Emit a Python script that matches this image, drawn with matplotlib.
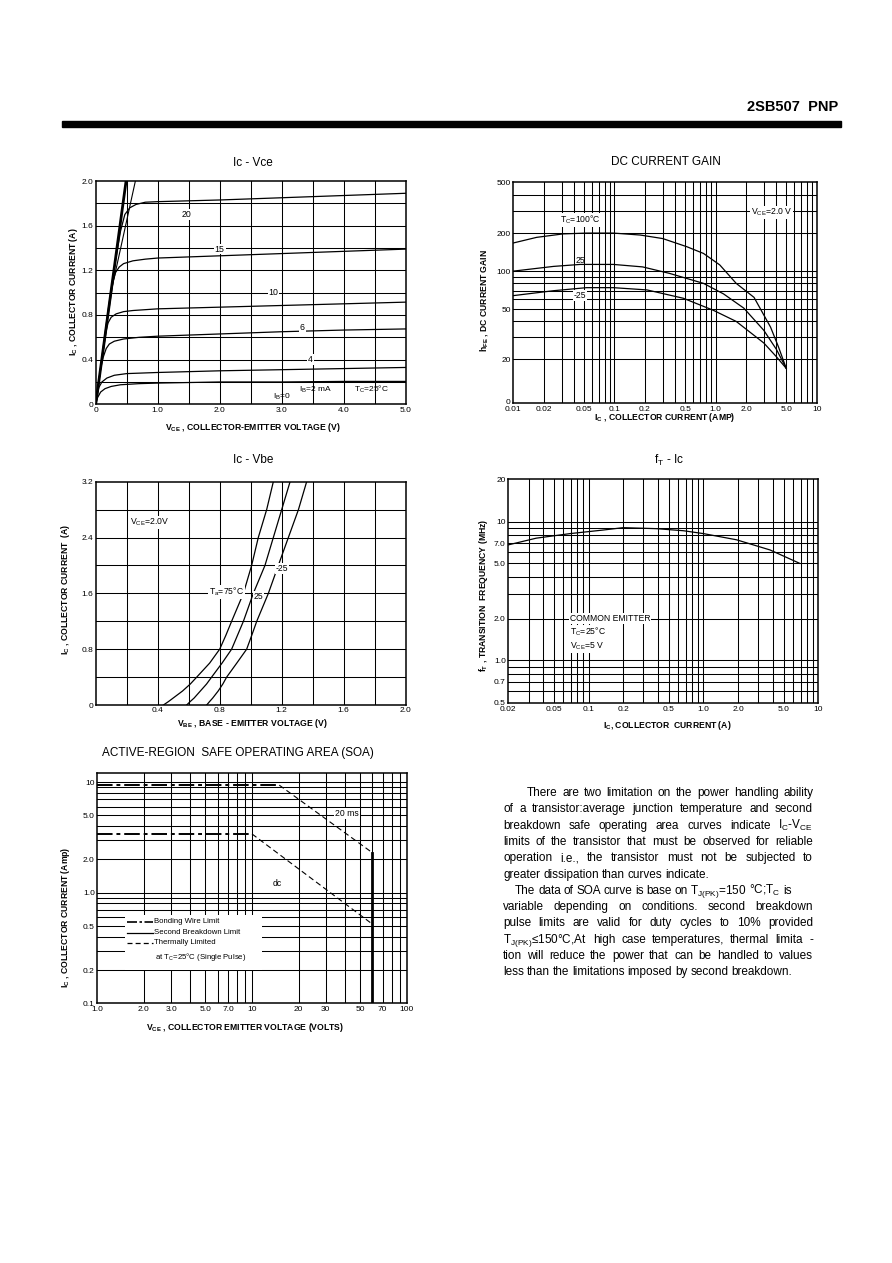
import matplotlib
matplotlib.use("Agg")
import matplotlib.pyplot as plt
from matplotlib.lines import Line2D
from matplotlib.patches import Rectangle
from matplotlib.ticker import NullLocator
import numpy as np

plt.rcParams['font.family'] = ['Liberation Sans', 'DejaVu Sans']
plt.rcParams['mathtext.fontset'] = 'custom'
plt.rcParams['mathtext.rm'] = 'Liberation Sans'
plt.rcParams['mathtext.it'] = 'Liberation Sans:italic'
plt.rcParams['mathtext.bf'] = 'Liberation Sans:bold'
plt.rcParams['mathtext.default'] = 'regular'

# ---------------- data ----------------
# Ic - Vce, Tc = 25 C, one curve per base current (mA)
ib_names = ["20", "15", "10", "6", "4", "2"]
vce_ib20 = [0, 0.1, 0.2, 0.3, 0.4, 0.47, 0.55, 0.65, 0.8, 1.0, 2.0, 3.0, 4.0, 5.0]
ic_ib20 = [0, 0.42, 0.84, 1.22, 1.55, 1.70, 1.76, 1.79, 1.81, 1.815, 1.83, 1.85, 1.87, 1.89]
vce_ib15 = [0, 0.1, 0.2, 0.28, 0.32, 0.38, 0.45, 0.6, 0.8, 1.0, 2.0, 3.0, 4.0, 5.0]
ic_ib15 = [0, 0.40, 0.80, 1.10, 1.18, 1.23, 1.26, 1.285, 1.30, 1.31, 1.33, 1.35, 1.37, 1.39]
vce_ib10 = [0, 0.1, 0.17, 0.2, 0.25, 0.33, 0.45, 0.6, 1.0, 2.0, 3.0, 4.0, 5.0]
ic_ib10 = [0, 0.40, 0.66, 0.73, 0.78, 0.81, 0.83, 0.84, 0.855, 0.87, 0.885, 0.90, 0.915]
vce_ib6 = [0, 0.08, 0.12, 0.17, 0.22, 0.3, 0.45, 0.7, 1.0, 2.0, 3.0, 4.0, 5.0]
ic_ib6 = [0, 0.32, 0.42, 0.50, 0.54, 0.565, 0.585, 0.60, 0.61, 0.63, 0.65, 0.665, 0.675]
vce_ib4 = [0, 0.05, 0.1, 0.18, 0.3, 0.5, 1.0, 2.0, 3.0, 4.0, 5.0]
ic_ib4 = [0, 0.15, 0.20, 0.235, 0.26, 0.275, 0.285, 0.30, 0.31, 0.32, 0.33]
vce_ib2 = [0, 0.03, 0.08, 0.15, 0.25, 0.4, 0.7, 1.0, 2.0, 3.0, 4.0, 5.0]
ic_ib2 = [0, 0.06, 0.11, 0.14, 0.16, 0.175, 0.185, 0.19, 0.20, 0.20, 0.205, 0.205]
sat_thick_v = [0.0, 0.49]
sat_thick_i = [0.0, 2.0]
sat_thin_v = [0.0, 0.245, 0.64]
sat_thin_i = [0.0, 1.0, 2.0]

# DC current gain, Vce = 2.0 V
ic_gain_100 = [0.01, 0.017, 0.031, 0.053, 0.0975, 0.18, 0.30, 0.52, 0.76, 1.1, 1.6, 2.4, 3.5, 4.2, 5.0]
hfe_100 = [167, 185, 197, 200, 200, 193, 181, 156, 138, 112, 80, 62, 36, 25, 17]
ic_gain_25 = [0.01, 0.025, 0.046, 0.0975, 0.19, 0.35, 0.76, 1.2, 1.9, 3.0, 4.0, 5.0]
hfe_25 = [100, 109, 113, 113, 108, 96, 80, 66, 51, 34, 24, 17]
ic_gain_m25 = [0.01, 0.025, 0.053, 0.0975, 0.21, 0.48, 0.95, 1.6, 3.0, 4.0, 5.0]
hfe_m25 = [64, 70, 74, 74, 71, 61, 49, 40, 27, 21, 17]

# Ic - Vbe, Vce = 2.0 V
ic_vbe = [0.0, 0.05, 0.1, 0.2, 0.3, 0.4, 0.6, 0.8, 1.0, 1.2, 1.6, 2.0, 2.4, 2.8, 3.2]
vbe_75 = [0.437, 0.47, 0.50, 0.56, 0.61, 0.652, 0.735, 0.80, 0.84, 0.877, 0.953, 1.006, 1.049, 1.103, 1.146]
vbe_25 = [0.587, 0.61, 0.635, 0.675, 0.715, 0.748, 0.815, 0.877, 0.915, 0.953, 1.017, 1.092, 1.146, 1.200, 1.254]
vbe_m25 = [0.716, 0.735, 0.755, 0.79, 0.82, 0.845, 0.91, 0.974, 1.007, 1.039, 1.114, 1.178, 1.243, 1.308, 1.361]

# fT - Ic
ic_ft = [0.02, 0.035, 0.069, 0.134, 0.2, 0.39, 0.67, 1.0, 1.94, 3.8, 6.9]
ft_mhz = [6.8, 7.6, 8.2, 8.7, 9.05, 8.9, 8.6, 8.2, 7.4, 6.25, 5.0]

# Safe operating area
soa_20ms_flat_v = [1.0, 15.0]
soa_20ms_flat_i = [9.4, 9.4]
soa_20ms_th_v = [15.0, 60.0]
soa_20ms_th_i = [9.4, 2.3]
soa_dc_flat_v = [1.0, 10.0]
soa_dc_flat_i = [3.4, 3.4]
soa_dc_th_v = [10.0, 60.0]
soa_dc_th_i = [3.4, 0.52]
soa_sb_v = [60.0, 60.0]
soa_sb_i = [2.3, 0.1]

# tick labels
vce_ticks = [0, 1, 2, 3, 4, 5]
vce_ticklabels = ["0", "1.0", "2.0", "3.0", "4.0", "5.0"]
ic1_ticks = [0, 0.4, 0.8, 1.2, 1.6, 2.0]
ic1_ticklabels = ["0", "0.4", "0.8", "1.2", "1.6", "2.0"]
gain_x_ticks = [0.01, 0.02, 0.05, 0.1, 0.2, 0.5, 1.0, 2.0, 5.0, 10]
gain_x_labels = ["0.01", "0.02", "0.05", "0.1", "0.2", "0.5", "1.0", "2.0", "5.0", "10"]
gain_y_ticks = [9.3, 20, 50, 100, 200, 500]
gain_y_labels = ["0", "20", "50", "100", "200", "500"]
vbe_ticks = [0.4, 0.8, 1.2, 1.6, 2.0]
vbe_ticklabels = ["0.4", "0.8", "1.2", "1.6", "2.0"]
ic3_ticks = [0, 0.8, 1.6, 2.4, 3.2]
ic3_ticklabels = ["0", "0.8", "1.6", "2.4", "3.2"]
ft_x_ticks = [0.02, 0.05, 0.1, 0.2, 0.5, 1.0, 2.0, 5.0, 10]
ft_x_labels = ["0.02", "0.05", "0.1", "0.2", "0.5", "1.0", "2.0", "5.0", "10"]
ft_y_ticks = [0.5, 0.7, 1.0, 2.0, 5.0, 7.0, 10, 20]
ft_y_labels = ["0.5", "0.7", "1.0", "2.0", "5.0", "7.0", "10", "20"]
soa_x_ticks = [1, 2, 3, 5, 7, 10, 20, 30, 50, 70, 100]
soa_x_labels = ["1.0", "2.0", "3.0", "5.0", "7.0", "10", "20", "30", "50", "70", "100"]
soa_y_ticks = [0.1, 0.2, 0.5, 1.0, 2.0, 5.0, 10]
soa_y_labels = ["0.1", "0.2", "0.5", "1.0", "2.0", "5.0", "10"]

paragraph = [
    "There are two limitation on the power handling ability",
    "of a transistor:average junction temperature and second",
    "breakdown safe operating area curves indicate I$_C$-V$_{CE}$",
    "limits of the transistor that must be observed for reliable",
    "operation i.e., the transistor must not be subjected to",
    "greater dissipation than curves indicate.",
    "The data of SOA curve is base on T$_{J(PK)}$=150 \u00b0C;T$_C$ is",
    "variable depending on conditions. second breakdown",
    "pulse limits are valid for duty cycles to 10% provided",
    "T$_{J(PK)}$\u2264150\u00b0C,At high case temperatures, thermal limita -",
    "tion will reduce the power that can be handled to values",
    "less than the limitations imposed by second breakdown.",
]

# ---------------- page ----------------
W, H = 892, 1263
fig = plt.figure(figsize=(W / 100, H / 100), dpi=100)
fig.patch.set_facecolor("white")


def fx(x):
    return x / W


def fy(y):
    return 1 - y / H


def px_axes(x0, y0, x1, y1):
    return fig.add_axes([fx(x0), fy(y1), (x1 - x0) / W, (y1 - y0) / H])


def ftext(x, y, s, **kw):
    kw.setdefault("ha", "center")
    kw.setdefault("va", "center")
    return fig.text(fx(x), fy(y), s, **kw)


def frame(ax):
    ax.tick_params(which="both", length=0, labelsize=6, pad=1.8)
    for s in ax.spines.values():
        s.set_linewidth(1.1)
        s.set_zorder(5)


def grid(ax, xs, ys, lw=0.75):
    for x in xs:
        ax.axvline(x, color="black", lw=lw, zorder=1)
    for y in ys:
        ax.axhline(y, color="black", lw=lw, zorder=1)


def log_lines(lo, hi):
    out = []
    e = int(np.floor(np.log10(lo)))
    while 10.0 ** e <= hi:
        for k in range(1, 10):
            v = k * 10.0 ** e
            if lo * 1.02 < v < hi * 0.98:
                out.append(v)
        e += 1
    return out


def log_ticks(ax, xt, xl, yt, yl):
    ax.set_xticks(xt, xl)
    ax.set_yticks(yt, yl)
    ax.xaxis.set_minor_locator(NullLocator())
    ax.yaxis.set_minor_locator(NullLocator())


CUR = dict(color="black", lw=0.9, zorder=3)
LAB = dict(fontsize=6.2, fontweight="bold")
TIT = dict(fontsize=8.5)
bg = dict(facecolor="white", edgecolor="none", pad=0.6)

# header
ftext(838, 107, "2SB507  PNP", ha="right", fontsize=10.5, fontweight="bold")
fig.patches.append(Rectangle((fx(62), fy(127)), (841 - 62) / W, 6 / H,
                             transform=fig.transFigure, color="black"))

# ---------- Ic - Vce ----------
ax1 = px_axes(95.7, 181, 405.7, 404.3)
frame(ax1)
ax1.set_xlim(0, 5)
ax1.set_ylim(0, 2)
grid(ax1, np.arange(0.5, 5, 0.5), np.arange(0.2, 2.0, 0.2))
for v, i in [(vce_ib20, ic_ib20), (vce_ib15, ic_ib15), (vce_ib10, ic_ib10),
             (vce_ib6, ic_ib6), (vce_ib4, ic_ib4), (vce_ib2, ic_ib2)]:
    ax1.plot(v, i, **CUR)
ax1.plot(sat_thick_v, sat_thick_i, color="black", lw=2.0, zorder=3)
ax1.plot(sat_thin_v, sat_thin_i, color="black", lw=0.8, zorder=3)
ax1.set_xticks(vce_ticks, vce_ticklabels)
ax1.set_yticks(ic1_ticks, ic1_ticklabels)
for (x, y, s) in [(1.47, 1.70, ib_names[0]), (2.0, 1.39, ib_names[1]),
                  (2.87, 1.0, ib_names[2]), (3.33, 0.69, ib_names[3]),
                  (3.46, 0.40, ib_names[4])]:
    ax1.text(x, y, s, fontsize=6.3, ha="center", va="center", zorder=4, bbox=bg)
ax1.text(3.0, 0.07, "I$_B$=0", fontsize=6, ha="center", va="center", zorder=4)
ax1.text(3.55, 0.13, "I$_B$=2 mA", fontsize=6, ha="center", va="center", zorder=4)
ax1.text(4.45, 0.13, "T$_C$=25\u00b0C", fontsize=6, ha="center", va="center", zorder=4)
ftext(253, 163, "Ic - Vce", **TIT)
ftext(253, 428, "V$_{CE}$ , COLLECTOR-EMITTER VOLTAGE (V)", **LAB)
ftext(73, 292, "I$_C$ , COLLECTOR CURRENT (A)", rotation=90, **LAB)

# ---------- DC current gain ----------
ax2 = px_axes(513.3, 181.7, 816.7, 403.3)
frame(ax2)
ax2.set_xscale("log")
ax2.set_yscale("log")
ax2.set_xlim(0.01, 10)
ax2.set_ylim(9, 510)
grid(ax2, log_lines(0.01, 10), [v for v in log_lines(9, 510) if v >= 20])
ax2.plot(ic_gain_100, hfe_100, **CUR)
ax2.plot(ic_gain_25, hfe_25, **CUR)
ax2.plot(ic_gain_m25, hfe_m25, **CUR)
log_ticks(ax2, gain_x_ticks, gain_x_labels, gain_y_ticks, gain_y_labels)
ax2.text(0.046, 255, "T$_C$=100\u00b0C", fontsize=6.2, ha="center", va="center", zorder=4, bbox=bg)
ax2.text(0.046, 122, "25", fontsize=6.2, ha="center", va="center", zorder=4)
ax2.text(0.046, 64, "-25", fontsize=6.2, ha="center", va="center", zorder=4, bbox=bg)
ax2.text(3.6, 290, "V$_{CE}$=2.0 V", fontsize=6.2, ha="center", va="center", zorder=4, bbox=bg)
ftext(666, 162, "DC CURRENT GAIN", **TIT)
ftext(665, 418, "I$_C$ , COLLECTOR CURRENT (AMP)", **LAB)
ftext(484, 300, "h$_{FE}$ , DC CURRENT GAIN", rotation=90, **LAB)

# ---------- Ic - Vbe ----------
ax3 = px_axes(95.7, 481.7, 405.7, 705)
frame(ax3)
ax3.set_xlim(0, 2.0)
ax3.set_ylim(0, 3.2)
grid(ax3, np.arange(0.2, 2.0, 0.2), np.arange(0.4, 3.2, 0.4))
ax3.plot(vbe_75, ic_vbe, **CUR)
ax3.plot(vbe_25, ic_vbe, **CUR)
ax3.plot(vbe_m25, ic_vbe, **CUR)
ax3.set_xticks(vbe_ticks, vbe_ticklabels)
ax3.set_yticks(ic3_ticks, ic3_ticklabels)
ax3.text(0.22, 2.62, "V$_{CE}$=2.0V", fontsize=6.2, ha="left", va="center", zorder=4, bbox=bg)
ax3.text(0.955, 1.62, "T$_a$=75\u00b0C", fontsize=6.2, ha="right", va="center", zorder=4, bbox=bg)
ax3.text(1.05, 1.55, "25", fontsize=6.2, ha="center", va="center", zorder=4, bbox=bg)
ax3.text(1.2, 1.96, "-25", fontsize=6.2, ha="center", va="center", zorder=4, bbox=bg)
ftext(253, 460, "Ic - Vbe", **TIT)
ftext(252, 724, "V$_{BE}$ , BASE - EMITTER VOLTAGE (V)", **LAB)
ftext(66, 590, "I$_C$ , COLLECTOR CURRENT  (A)", rotation=90, **LAB)

# ---------- fT - Ic ----------
ax4 = px_axes(508.3, 479.3, 818.3, 703.3)
frame(ax4)
ax4.set_xscale("log")
ax4.set_yscale("log")
ax4.set_xlim(0.02, 10)
ax4.set_ylim(0.49, 20.2)
grid(ax4, log_lines(0.02, 10), [v for v in log_lines(0.49, 20.2) if v > 0.55])
ax4.plot(ic_ft, ft_mhz, **CUR)
log_ticks(ax4, ft_x_ticks, ft_x_labels, ft_y_ticks, ft_y_labels)
for y, s in [(2.0, "COMMON EMITTER"), (1.6, "T$_C$=25\u00b0C"), (1.27, "V$_{CE}$=5 V")]:
    ax4.text(0.069, y, s, fontsize=6.2, ha="left", va="center", zorder=4, bbox=bg)
ftext(669, 460, "f$_T$ - Ic", **TIT)
ftext(667, 725, "I$_C$, COLLECTOR  CURRENT (A)", **LAB)
ftext(484, 595, "f$_T$ , TRANSITION  FREQUENCY (MHz)", rotation=90, **LAB)

# ---------- SOA ----------
ax5 = px_axes(97.3, 773, 406.7, 1003.3)
frame(ax5)
ax5.set_xscale("log")
ax5.set_yscale("log")
ax5.set_xlim(1, 100)
ax5.set_ylim(0.1, 12.1)
grid(ax5, log_lines(1, 100), log_lines(0.1, 12.1))
BW = dict(color="black", lw=1.4, dashes=(8, 2, 2, 2), zorder=3)
TH = dict(color="black", lw=0.8, dashes=(5, 3), zorder=3)
ax5.plot(soa_20ms_flat_v, soa_20ms_flat_i, **BW)
ax5.plot(soa_dc_flat_v, soa_dc_flat_i, **BW)
ax5.plot(soa_20ms_th_v, soa_20ms_th_i, **TH)
ax5.plot(soa_dc_th_v, soa_dc_th_i, **TH)
ax5.plot(soa_sb_v, soa_sb_i, color="black", lw=2.0, zorder=3)
log_ticks(ax5, soa_x_ticks, soa_x_labels, soa_y_ticks, soa_y_labels)
ax5.text(41, 5.2, "20 ms", fontsize=6.2, ha="center", va="center", zorder=4, bbox=bg)
ax5.text(14.6, 1.22, "dc", fontsize=6.2, ha="center", va="center", zorder=4, bbox=bg)
ftext(238, 753, "ACTIVE-REGION  SAFE OPERATING AREA (SOA)", **TIT)
ftext(245, 1027, "V$_{CE}$ , COLLECTOR EMITTER VOLTAGE (VOLTS)", **LAB)
ftext(66, 917, "I$_C$ , COLLECTOR CURRENT (Amp)", rotation=90, **LAB)

# SOA legend box
fig.patches.append(Rectangle((fx(125), fy(970)), (262 - 125) / W, (970 - 915) / H,
                             transform=fig.transFigure, facecolor="white",
                             edgecolor="none", zorder=6))
leg = [(921.7, "Bonding Wire Limit", dict(lw=1.2, dashes=(6, 1.5, 1.5, 1.5))),
       (932.7, "Second Breakdown Limit", dict(lw=0.9)),
       (942.7, "Thermally Limited", dict(lw=0.9, dashes=(4, 2.5)))]
for y, s, st in leg:
    fig.lines.append(Line2D([fx(127), fx(153)], [fy(y), fy(y)], transform=fig.transFigure,
                            color="black", zorder=7, **st))
    ftext(154, y, s, ha="left", fontsize=5.6, zorder=7)
ftext(155, 956.7, "at T$_C$=25\u00b0C (Single Pulse)", ha="left", fontsize=5.6, zorder=7)

# ---------- paragraph, justified ----------
renderer = fig.canvas.get_renderer()
para_left = [526.7, 503, 503, 503, 503, 503, 515, 503, 503, 503, 503, 503]
para_right = [813, 813, 813, 813, 813, None, 792, 813, 813, 813, 813, None]
for k, line in enumerate(paragraph):
    yb = 792.7 + 16.27 * k + 3.5
    words = line.split(" ")
    arts = [fig.text(0, fy(yb), w, fontsize=8.5, ha="left", va="baseline") for w in words]
    widths = [a.get_window_extent(renderer).width for a in arts]
    x0, x1 = para_left[k], para_right[k]
    space = 3.0
    if x1 is not None and len(words) > 1:
        space = (x1 - x0 - sum(widths)) / (len(words) - 1)
    x = x0
    for a, w in zip(arts, widths):
        a.set_x(fx(x))
        x += w + space

fig.savefig("out.png", dpi=100, facecolor="white")
